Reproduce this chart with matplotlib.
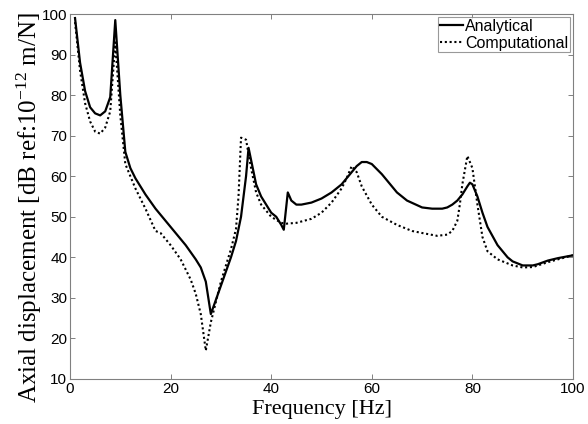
import matplotlib
matplotlib.use("Agg")
import matplotlib.pyplot as plt

plt.rcParams['mathtext.fontset'] = 'custom'
plt.rcParams['mathtext.rm'] = 'Liberation Serif'
plt.rcParams['mathtext.it'] = 'Liberation Serif:italic'
plt.rcParams['mathtext.bf'] = 'Liberation Serif:bold'

freq_a = [1, 2, 3, 4, 5, 6, 7, 8, 9, 10, 11, 12, 13, 15, 17, 20, 23, 25, 26, 27, 28, 29, 30, 31, 32, 33, 34, 35, 35.5, 36, 37, 38, 40, 41, 42, 42.5, 43.3, 44, 45, 46, 48, 50, 52, 54, 55, 56, 57, 58, 59, 60, 62, 64, 65, 67, 70, 72, 74, 75, 76, 77, 78, 79, 79.5, 80, 81, 82, 83, 85, 87, 88, 90, 92, 93, 95, 97, 100]
amp_a = [99, 88, 81, 77, 75.5, 75, 76, 79.5, 98.5, 80, 66, 62, 59.5, 55.5, 52, 47.5, 43, 39.5, 37.5, 34, 26, 29.5, 33, 36.5, 40, 44, 50, 60, 67, 64, 58, 55, 51, 50, 48, 46.8, 56, 54, 53, 53, 53.5, 54.5, 56, 58, 59.5, 61, 62.5, 63.5, 63.5, 63, 60.5, 57.5, 56, 54, 52.3, 52, 52, 52.3, 53, 54, 55.5, 57.5, 58.4, 58, 55, 51, 47.5, 43, 40, 39, 38, 38, 38.3, 39.2, 39.8, 40.5]

freq_c = [1, 2, 3, 4, 5, 6, 7, 8, 9, 10, 11, 12, 13, 15, 17, 18, 20, 22, 24, 25, 26, 27, 28, 29, 30, 31, 32, 33, 33.5, 34, 35, 36, 37, 38, 40, 42, 43, 45, 48, 50, 52, 54, 55, 56, 57, 58, 60, 62, 65, 68, 70, 73, 75, 76, 77, 77.5, 78, 79, 80, 81, 82, 83, 85, 88, 90, 92, 95, 97, 100]
amp_c = [98, 86, 78, 73.5, 71, 70.5, 72, 76, 93, 75, 63, 60, 57, 52, 46.5, 46, 43, 39.5, 34.5, 31, 26, 17, 24, 29, 34, 38, 42, 47, 55, 69.5, 69, 62, 56, 53, 50, 48.5, 48.3, 48.5, 49.5, 51, 53.5, 57, 59.5, 62.5, 61, 57.5, 53, 50, 48, 46.5, 46, 45.3, 45.6, 46.5, 49, 53, 58, 65, 62, 53, 45, 41.5, 39.5, 38, 37.5, 37.6, 38.8, 39.5, 40.5]

xticks = [0, 20, 40, 60, 80, 100]
yticks = [10, 20, 30, 40, 50, 60, 70, 80, 90, 100]

W, H = 588, 424
fig = plt.figure(figsize=(W/100, H/100), dpi=100)
L, R, T, B = 70, 573, 14, 379
ax = fig.add_axes([L/W, 1-B/H, (R-L)/W, (B-T)/H])

ax.plot(freq_a, amp_a, color='black', lw=1.6, ls='-', label='Analytical')
ax.plot(freq_c, amp_c, color='black', lw=1.5, ls=(0, (1, 1.3)), label='Computational')

ax.set_xlim(0, 100)
ax.set_ylim(10, 100)
ax.set_xticks(xticks)
ax.set_yticks(yticks)
for s in ax.spines.values():
    s.set_color('#808080')
    s.set_linewidth(0.8)
ax.tick_params(direction='in', top=True, right=True, length=3.6, width=0.7, color='#808080',
               labelsize=11, pad=2)
for lab in ax.get_xticklabels() + ax.get_yticklabels():
    lab.set_family('Liberation Sans')

ax.set_xlabel('Frequency [Hz]', family='Liberation Serif', fontsize=16, labelpad=3)
ax.set_ylabel(r'Axial displacement [dB ref:10$^{-12}$ m/N]', family='Liberation Serif', fontsize=18)
ax.yaxis.set_label_coords(-0.052, 0.47)

leg = ax.legend(loc='upper right', prop={'family': 'Liberation Sans', 'size': 11.5},
                frameon=True, fancybox=False, edgecolor='#808080', handlelength=1.45,
                handletextpad=0.15, borderpad=0.1, labelspacing=0.12, borderaxespad=0.2)
leg.get_frame().set_linewidth(0.8)

fig.savefig('out.png', dpi=100)
